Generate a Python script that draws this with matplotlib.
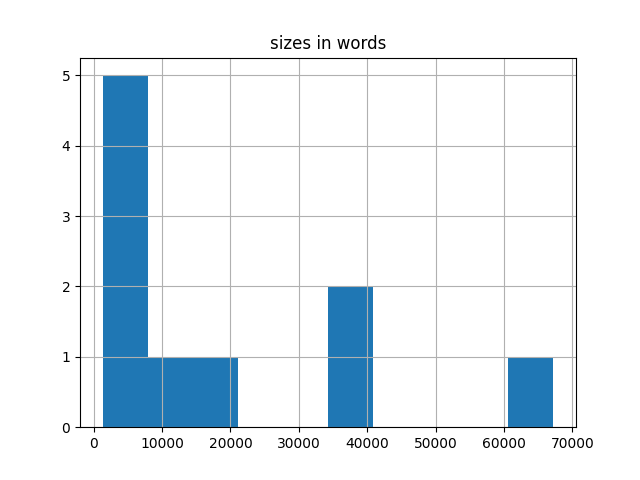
import matplotlib
matplotlib.use("Agg")
import matplotlib.pyplot as plt
import pandas as pd

# estimated document sizes (words)
doc_sizes = [1300, 2500, 3800, 5200, 6900, 9800, 17400, 36100, 39700, 67250]

df = pd.DataFrame({"sizes in words": doc_sizes})

fig, ax = plt.subplots(figsize=(6.4, 4.8), dpi=100)
df.hist(column="sizes in words", bins=10, ax=ax)
plt.savefig("out.png", dpi=100)
plt.close()
